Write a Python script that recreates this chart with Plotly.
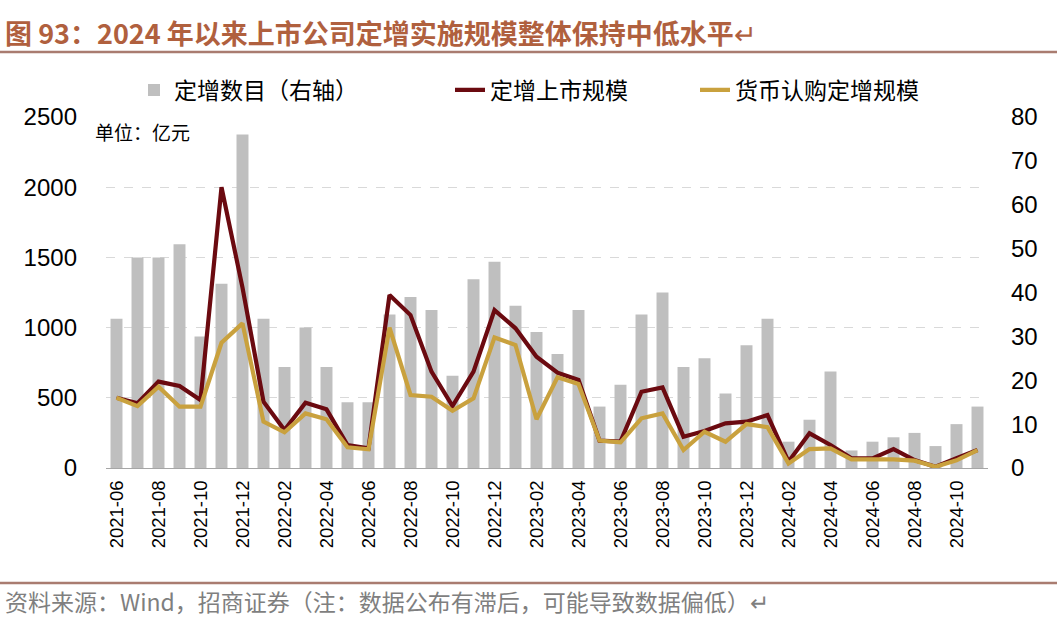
import plotly.graph_objects as go

months = ["2021-06", "2021-07", "2021-08", "2021-09", "2021-10", "2021-11", "2021-12",
          "2022-01", "2022-02", "2022-03", "2022-04", "2022-05", "2022-06", "2022-07",
          "2022-08", "2022-09", "2022-10", "2022-11", "2022-12",
          "2023-01", "2023-02", "2023-03", "2023-04", "2023-05", "2023-06", "2023-07",
          "2023-08", "2023-09", "2023-10", "2023-11", "2023-12",
          "2024-01", "2024-02", "2024-03", "2024-04", "2024-05", "2024-06", "2024-07",
          "2024-08", "2024-09", "2024-10", "2024-11"]

count_placements = [34, 48, 48, 51, 30, 42, 76,
                    34, 23, 32, 23, 15, 15, 35, 39, 36, 21, 43, 47,
                    37, 31, 26, 36, 14, 19, 35, 40, 23, 25, 17, 28,
                    34, 6, 11, 22, 4, 6, 7, 8, 5, 10, 14]

listed_scale = [500, 461, 615, 584, 484, 2000, 1285,
                472, 270, 465, 418, 164, 140, 1232, 1089, 686, 441, 686, 1125,
                995, 793, 679, 627, 195, 188, 543, 574, 223, 263, 318, 330,
                377, 45, 247, 164, 69, 69, 135, 57, 9, 69, 128]

cash_scale = [500, 441, 579, 437, 437, 892, 1030,
              330, 254, 389, 347, 147, 133, 1000, 520, 508, 408, 496, 930,
              876, 347, 646, 598, 195, 183, 354, 389, 128, 258, 187, 313,
              290, 33, 135, 140, 62, 62, 62, 52, 9, 55, 128]

left_ticks = [0, 500, 1000, 1500, 2000, 2500]
right_ticks = [0, 10, 20, 30, 40, 50, 60, 70, 80]

x_idx = list(range(len(months)))
label_idx = x_idx[::2]
label_text = months[::2]
boundary_ticks = [i - 0.5 for i in range(0, len(months) + 1, 2)]

NUM_FONT = "Liberation Sans, Arial, sans-serif"
CJK_FONT = "Noto Sans CJK SC, sans-serif"

fig = go.Figure()
fig.add_trace(go.Bar(x=x_idx, y=count_placements, name="定增数目（右轴）",
                     marker=dict(color="#BFBFBF", line=dict(width=0)), width=0.57,
                     yaxis="y", legend="legend"))
fig.add_trace(go.Scatter(x=x_idx, y=listed_scale, name="定增上市规模", mode="lines",
                         line=dict(color="#6B0A10", width=4.2), yaxis="y2", legend="legend2"))
fig.add_trace(go.Scatter(x=x_idx, y=cash_scale, name="货币认购定增规模", mode="lines",
                         line=dict(color="#C9A13E", width=4.2), yaxis="y2", legend="legend3"))

top, bottom, left, right = 117, 164, 106, 69
H, W = 632, 1057
ph = H - top - bottom
pw = W - left - right


def py(pix):
    return (H - bottom - pix) / ph


def px(pix):
    return (pix - left) / pw


legend_common = dict(orientation="h", yanchor="middle", xanchor="left",
                     font=dict(family=CJK_FONT, size=23, color="#000000"),
                     bgcolor="rgba(0,0,0,0)", itemwidth=30)

fig.update_layout(
    width=W, height=H,
    margin=dict(l=left, r=right, t=top, b=bottom, autoexpand=False),
    paper_bgcolor="white", plot_bgcolor="white",
    showlegend=True,
    legend=dict(x=px(134), y=py(90), **legend_common),
    legend2=dict(x=px(450), y=py(90), **legend_common),
    legend3=dict(x=px(695), y=py(90), **legend_common),
    xaxis=dict(range=[-0.5, len(months) - 0.5], tickmode="array", tickvals=label_idx,
               ticktext=label_text, tickangle=-90, ticks="", showgrid=False,
               showline=True, linecolor="#A6A6A6", linewidth=1, zeroline=False,
               ticklabelstandoff=4,
               tickfont=dict(family=NUM_FONT, size=18.5, color="#000000")),
    xaxis2=dict(range=[-0.5, len(months) - 0.5], overlaying="x", anchor="y",
                side="bottom", tickmode="array", tickvals=boundary_ticks,
                showticklabels=False, ticks="outside", ticklen=6, tickcolor="#A6A6A6",
                showgrid=False, showline=False, zeroline=False),
    yaxis=dict(range=[0, 80], side="right", tickmode="array", tickvals=right_ticks,
               showgrid=False, zeroline=False, showline=False, ticks="",
               ticklabelstandoff=22,
               tickfont=dict(family=NUM_FONT, size=24, color="#000000")),
    yaxis2=dict(range=[0, 2500], side="left", overlaying="y", tickmode="array",
                tickvals=left_ticks, showgrid=True, gridcolor="#D9D9D9", griddash="dash",
                gridwidth=1, zeroline=False, showline=False, ticks="",
                ticklabelstandoff=28,
                tickfont=dict(family=NUM_FONT, size=24, color="#000000")),
    bargap=0.4,
)

fig.add_annotation(xref="paper", yref="paper", x=px(3), y=py(33), xanchor="left",
                   yanchor="middle", showarrow=False,
                   text="<b>图 93：2024 年以来上市公司定增实施规模整体保持中低水平</b>↵",
                   font=dict(family=CJK_FONT, size=27, color="#B0603E"))
fig.add_annotation(xref="paper", yref="paper", x=px(93), y=py(131), xanchor="left",
                   yanchor="middle", showarrow=False, text="单位：亿元",
                   font=dict(family=CJK_FONT, size=19, color="#000000"))
fig.add_annotation(xref="paper", yref="paper", x=px(3), y=py(601), xanchor="left",
                   yanchor="middle", showarrow=False,
                   text="资料来源：Wind，招商证券（注：数据公布有滞后，可能导致数据偏低）↵",
                   font=dict(family=CJK_FONT, size=23, color="#7F7F7F"))

fig.add_shape(type="line", xref="paper", yref="paper", x0=px(0), x1=px(W),
              y0=py(52), y1=py(52), line=dict(color="#A97C70", width=2.5))
fig.add_shape(type="line", xref="paper", yref="paper", x0=px(0), x1=px(W),
              y0=py(583), y1=py(583), line=dict(color="#A97C70", width=2.5))

fig.write_html("out.html", config={"displayModeBar": False},
               post_script="document.body.style.margin='0';document.body.style.overflow='hidden';")
